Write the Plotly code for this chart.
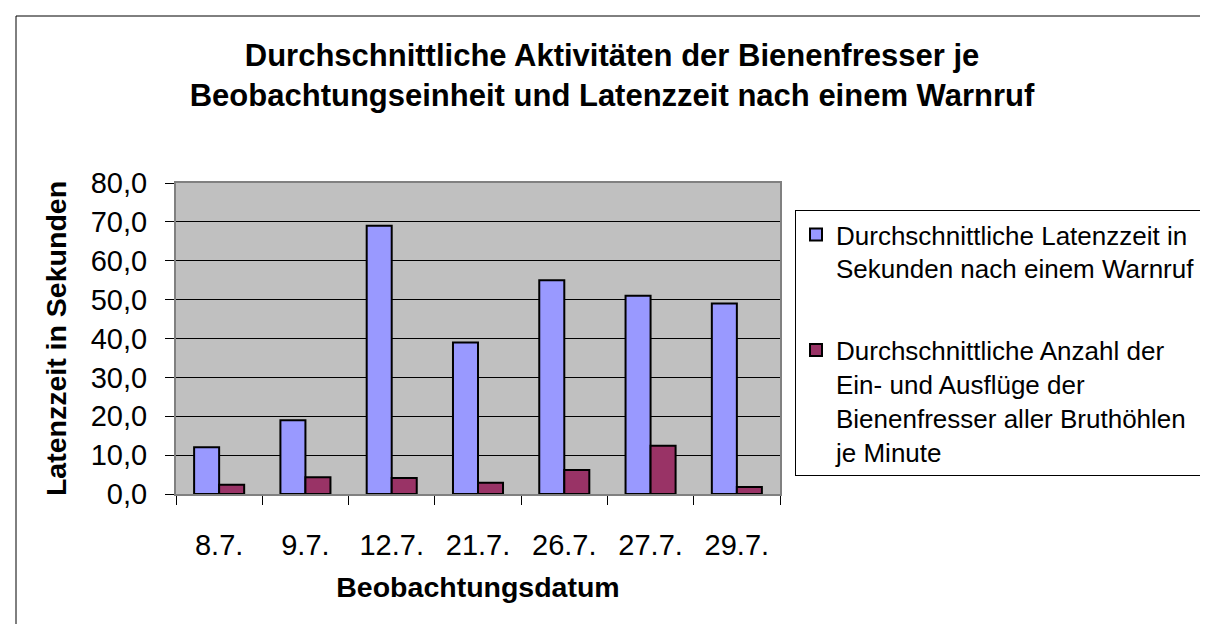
import plotly.graph_objects as go

dates = ["8.7.", "9.7.", "12.7.", "21.7.", "26.7.", "27.7.", "29.7."]
latenz = [12.0, 19.0, 69.0, 39.0, 55.0, 51.0, 49.0]
anzahl = [2.4, 4.3, 4.1, 2.9, 6.2, 12.4, 1.8]
name_latenz = "Durchschnittliche Latenzzeit in<br>Sekunden nach einem Warnruf"
name_anzahl = ("Durchschnittliche Anzahl der<br>Ein- und Ausflüge der<br>"
               "Bienenfresser aller Bruthöhlen<br>je Minute")
y_ticks = [0, 10, 20, 30, 40, 50, 60, 70, 80]

W, H = 1208, 624
L, R, T, B = 168, 772, 175, 486


def px(x):
    return (x - L) / (R - L)


def py(y):
    return (B - y) / (B - T)


FONT = "Liberation Sans, Arial, sans-serif"

fig = go.Figure()
fig.add_trace(go.Bar(x=dates, y=latenz, name=name_latenz, legendgroup="a",
                     marker=dict(color="#9999FF", line=dict(color="black", width=2))))
fig.add_trace(go.Bar(x=dates, y=anzahl, name=name_anzahl, legendgroup="b",
                     marker=dict(color="#993366", line=dict(color="black", width=2))))

fig.update_layout(
    width=W, height=H,
    margin=dict(l=L, r=W - R, t=T, b=H - B, pad=0),
    paper_bgcolor="white", plot_bgcolor="#C0C0C0",
    separators=",.",
    font=dict(family=FONT, color="black"),
    barmode="group", bargap=0.42, bargroupgap=0,
    title=dict(text="<b>Durchschnittliche Aktivitäten der Bienenfresser je<br>"
                    "Beobachtungseinheit und Latenzzeit nach einem Warnruf</b>",
               x=0.5, xanchor="center", xref="container",
               y=1 - 58 / H, yanchor="top", yref="container",
               font=dict(size=31, family=FONT, color="black")),
    legend=dict(x=px(787), y=py(202), xanchor="left", yanchor="top",
                bordercolor="black", borderwidth=1, bgcolor="white",
                font=dict(size=26, family=FONT, color="black"),
                traceorder="grouped", tracegroupgap=45, valign="top",
                itemwidth=30),
    xaxis=dict(type="category", tickson="boundaries", ticks="outside", ticklen=9,
               tickcolor="black", tickwidth=1,
               tickfont=dict(size=29, family=FONT, color="black"),
               showline=True, mirror=True, linecolor="#808080", linewidth=2,
               showgrid=False, ticklabelstandoff=24,
               title=dict(text="<b>Beobachtungsdatum</b>", standoff=17,
                          font=dict(size=28.5, family=FONT, color="black"))),
    yaxis=dict(range=[0, 80], tickvals=y_ticks, tickformat=".1f",
               ticks="outside", ticklen=9, tickcolor="black", tickwidth=1,
               tickfont=dict(size=29, family=FONT, color="black"),
               showline=True, mirror=True, linecolor="#808080", linewidth=2,
               showgrid=True, gridcolor="black", gridwidth=1,
               zeroline=True, zerolinecolor="black", zerolinewidth=1,
               ticklabelstandoff=12,
               title=dict(text="<b>Latenzzeit in Sekunden</b>", standoff=16,
                          font=dict(size=28.5, family=FONT, color="black"))),
    shapes=[dict(type="rect", xref="paper", yref="paper",
                 x0=px(8), x1=px(1201), y0=py(621), y1=py(8),
                 line=dict(color="black", width=1), fillcolor="rgba(0,0,0,0)",
                 layer="below")],
)

fig.write_html("out.html")
